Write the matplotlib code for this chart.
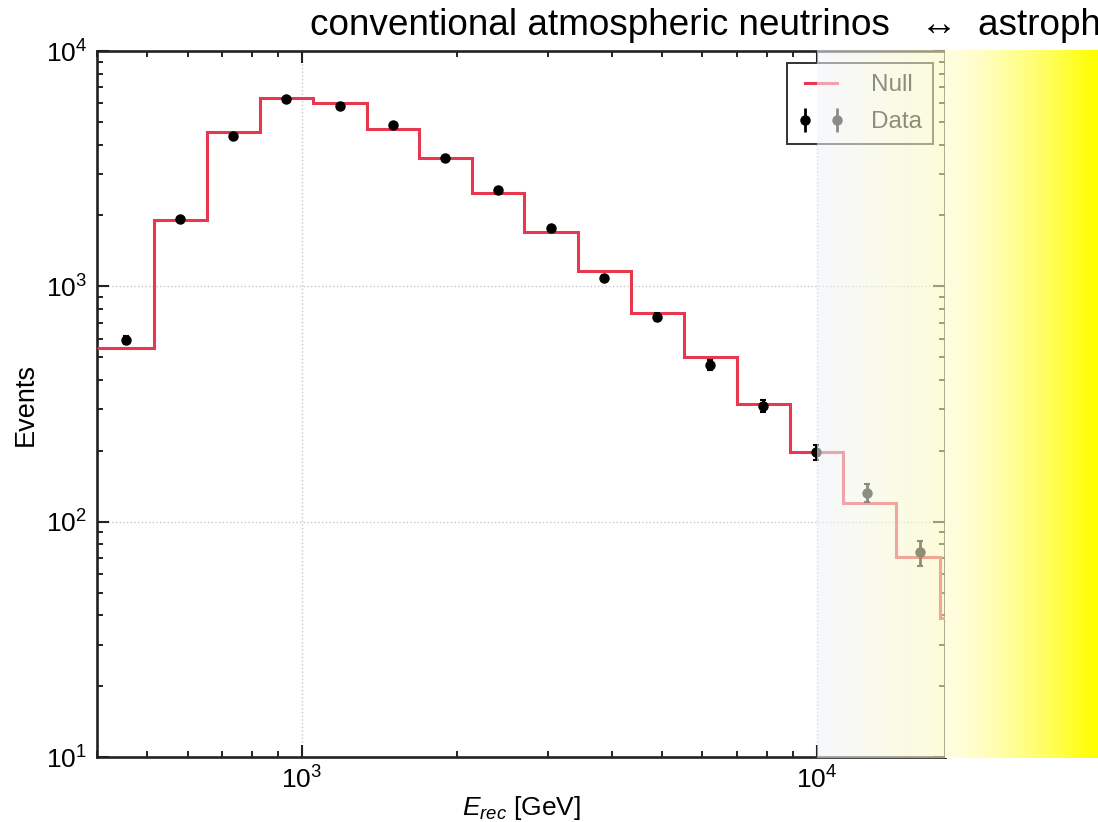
import numpy as np
import matplotlib
matplotlib.use("Agg")
import matplotlib.pyplot as plt
from matplotlib.lines import Line2D

plt.rcParams['font.family'] = ['Liberation Sans', 'DejaVu Sans']
plt.rcParams['mathtext.fontset'] = 'custom'
plt.rcParams['mathtext.rm'] = 'Liberation Sans'
plt.rcParams['mathtext.it'] = 'Liberation Sans:italic'
plt.rcParams['mathtext.bf'] = 'Liberation Sans:bold'

# bin edges in reconstructed energy (GeV)
bin_edges = [400, 516, 654, 829, 1050, 1337, 1687, 2139, 2699, 3435,
             4354, 5517, 6992, 8864, 11233, 14236, 17330, 22000]
# null hypothesis expectation per bin
null_events = [547, 1910, 4514, 6300, 5990, 4680, 3508, 2492, 1700, 1162,
               772, 499, 317, 197, 120, 71, 39]

# data points
data_energy = [455, 581, 736, 933, 1185, 1502, 1900, 2403, 3045, 3867,
               4901, 6211, 7872, 9950, 12550, 15900]
data_events = [592, 1932, 4354, 6252, 5838, 4847, 3510, 2565, 1764, 1088,
               740, 464, 311, 197, 133, 74]
data_err = [24, 44, 66, 79, 76, 70, 59, 51, 42, 33, 27, 22, 18, 14, 12, 9]

W, H = 1098, 822
fig = plt.figure(figsize=(W / 100, H / 100), dpi=100)

# axes frame in pixels: x 97..945, y 51..757
ax = fig.add_axes([97 / W, (H - 757) / H, (945 - 97) / W, (757 - 51) / H])

red = '#e8384f'
ax.stairs(null_events, bin_edges, baseline=None, color=red, linewidth=2.2, zorder=3)
ax.errorbar(data_energy, data_events, yerr=data_err, fmt='o', color='black',
            ms=6.5, elinewidth=2, capsize=2.5, capthick=1.5, zorder=4)

ax.set_xscale('log')
ax.set_yscale('log')
ax.set_xlim(400, 17750)
ax.set_ylim(10, 1e4)

ax.grid(True, which='major', linestyle=':', color='#c8c8c8', linewidth=1)
ax.tick_params(which='both', direction='in', top=True, right=True,
               labelsize=19, color='#222222')
ax.tick_params(which='major', length=8.5, width=1.5, pad=7)
ax.tick_params(which='minor', length=4.3, width=1.4)
ax.tick_params(axis='y', which='major', pad=7)
for s in ax.spines.values():
    s.set_linewidth(1.9)
    s.set_color('#222222')

ax.set_ylabel('Events', fontsize=19.5, labelpad=5)
ax.set_xlabel(r'$E_{rec}$ [GeV]', fontsize=19, labelpad=0)

handles = [Line2D([], [], color=red, linewidth=2.2),
           ax.errorbar([], [], yerr=[], fmt='o', color='black', ms=6.5,
                       elinewidth=2, capsize=2.5)]
leg = ax.legend(handles, ['Null', 'Data'], loc='upper right', numpoints=2,
                fontsize=17.5, fancybox=False, framealpha=1,
                edgecolor='#333333', handlelength=1.9, handletextpad=1.1,
                borderpad=0.45, labelspacing=0.62, borderaxespad=0.5)
leg.get_frame().set_linewidth(1.4)

# gradient overlay from 10^4 to the right edge of the figure
x0, x1, xa = 817, 1098, 945
cols = np.arange(x0, x1)
img = np.zeros((2, len(cols), 4))
for i, px in enumerate(cols):
    if px < xa:
        t = (px - x0) / (xa - x0)
        target = np.array([0.968, 0.975, 0.99]) * (1 - t) + np.array([0.992, 0.99, 0.855]) * t
        a = 0.58
        img[:, i, :3] = np.clip((target - (1 - a)) / a, 0, 1)
        img[:, i, 3] = a
    else:
        t = min((px - xa) / (1094 - xa), 1.0) ** 1.4
        target = np.array([1.0, 0.995, 0.88]) * (1 - t) + np.array([1.0, 1.0, 0.0]) * t
        img[:, i, :3] = target
        img[:, i, 3] = 1.0
ov = fig.add_axes([x0 / W, (H - 758) / H, (x1 - x0) / W, (758 - 50) / H])
ov.imshow(img, aspect='auto', extent=[0, 1, 0, 1], interpolation='bilinear')
ov.set_axis_off()

fig.text(310 / W, 1 - 35 / H,
         'conventional atmospheric neutrinos   \u2194  astrophysical neutrinos',
         fontsize=26.6, ha='left', va='baseline')

fig.savefig('out.png', dpi=100)
